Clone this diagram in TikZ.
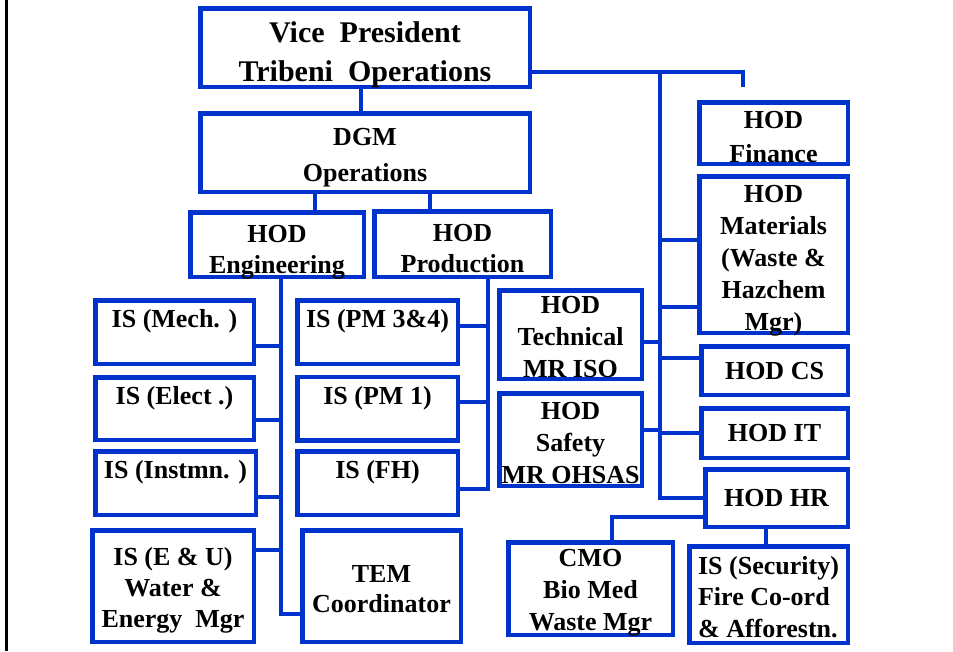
\documentclass[tikz,border=0pt]{standalone}
\usepackage{fontspec}
\setmainfont{Liberation Serif}
\definecolor{orgblue}{RGB}{0,51,204}

\begin{document}
\begin{tikzpicture}[x=1pt,y=-1pt,
    box/.style={draw=orgblue,line width=4.5pt,align=center,inner sep=0pt,text depth=0pt,font=\bfseries\fontsize{26}{32}\selectfont},
    isbox/.style={box,text depth=27pt},
    link/.style={draw=orgblue,line width=4.5pt}]
    \useasboundingbox (0,0) rectangle (953,651);
    \draw[line width=3pt] (6.5,0) -- (6.5,651);
    % top of the chart
    \node[box,minimum width=329.5pt,minimum height=78.5pt,text height=67pt,font=\bfseries\fontsize{30}{39}\selectfont] (vp) at (365,47.5) {Vice\ \ President\\Tribeni\ \ Operations};
    \node[box,minimum width=329.5pt,minimum height=78.5pt,text height=57pt,font=\bfseries\fontsize{26}{36}\selectfont] (dgm) at (365,152.5) {DGM\\Operations};
    \node[box,minimum width=173.5pt,minimum height=64.5pt,text height=57pt,font=\bfseries\fontsize{26}{31}\selectfont] (eng) at (277,244.5) {HOD\\Engineering};
    \node[box,minimum width=176.5pt,minimum height=65.5pt,text height=56pt,font=\bfseries\fontsize{26}{31}\selectfont] (prod) at (462.5,244) {HOD\\Production};
    % engineering side
    \node[isbox,minimum width=158.5pt,minimum height=63.5pt] (mech) at (174.5,332) {IS (Mech. )};
    \node[isbox,minimum width=158.5pt,minimum height=62.5pt] (elect) at (174.5,408.5) {IS (Elect .)};
    \node[isbox,minimum width=160.5pt,minimum height=63.5pt] (inst) at (175.5,483) {IS (Instmn. )};
    \node[box,minimum width=161.5pt,minimum height=111.5pt,text height=82pt,font=\bfseries\fontsize{26}{31}\selectfont] (eu) at (173,586) {IS (E \& U)\\Water \&\\Energy\ \ Mgr};
    \node[box,minimum width=158.5pt,minimum height=111.5pt,text height=52pt,font=\bfseries\fontsize{26}{30}\selectfont] (tem) at (381.5,586) {TEM\\Coordinator};
    % production side
    \node[isbox,minimum width=160.5pt,minimum height=63.5pt] (pm34) at (377.5,332) {IS (PM 3\&4)};
    \node[isbox,minimum width=160.5pt,minimum height=63.5pt] (pm1) at (377.5,408.5) {IS (PM 1)};
    \node[isbox,minimum width=160.5pt,minimum height=63.5pt] (fh) at (377.5,483) {IS (FH)};
    \node[box,minimum width=142.5pt,minimum height=88.5pt,text height=85pt] (tech) at (570.5,334.5) {HOD\\Technical\\MR ISO};
    \node[box,minimum width=142.5pt,minimum height=92.5pt,text height=87pt] (safe) at (570.5,439.5) {HOD\\Safety\\MR OHSAS};
    % right column
    \node[box,minimum width=148.5pt,minimum height=61.5pt,text height=58pt,font=\bfseries\fontsize{26}{34}\selectfont] (fin) at (773.5,133) {HOD\\Finance};
    \node[box,minimum width=148.5pt,minimum height=156.5pt,text height=151pt] (mat) at (773.5,254.5) {HOD\\Materials\\(Waste \&\\Hazchem\\Mgr)};
    \node[box,minimum width=146.5pt,minimum height=48.5pt] (cs) at (774.5,370.5) {HOD CS};
    \node[box,minimum width=146.5pt,minimum height=49.5pt] (it) at (774.5,433) {HOD IT};
    \node[box,minimum width=142.5pt,minimum height=57.5pt] (hr) at (776.5,498) {HOD HR};
    \node[box,minimum width=164.5pt,minimum height=92.5pt,text height=83pt] (cmo) at (590.5,588.5) {CMO\\Bio Med\\Waste Mgr};
    \node[box,align=left,minimum width=158.5pt,minimum height=96.5pt,text height=85pt,font=\bfseries\fontsize{26}{31.5}\selectfont] (sec) at (768.5,594.5) {IS (Security)\\Fire Co-ord\\\& Afforestn.};

    % links
    \draw[link] ([xshift=-4pt]vp.south) -- ([xshift=-4pt]dgm.north);
    \draw[link] ([xshift=-50pt]dgm.south) -- ([xshift=38pt]eng.north);
    \draw[link] ([xshift=65pt]dgm.south) -- ([xshift=-32.5pt]prod.north);
    \draw[link,shorten >=13pt] ([yshift=-24.5pt]vp.east) -| ([xshift=-30.5pt]fin.north);
    \coordinate (hub) at (660,72);
    \draw[link] (hub) |- (hr.west);
    \draw[link] ([yshift=14.5pt]mat.west) -| (hub);
    \draw[link] ([yshift=-52.5pt]mat.west) -| (hub);
    \draw[link] ([yshift=12.5pt]cs.west) -| (hub);
    \draw[link] (it.west) -| (hub);
    \draw[link] ([yshift=-7.5pt]tech.east) -| (hub);
    \draw[link] ([yshift=9.5pt]safe.east) -| (hub);
    \draw[link] ([yshift=-19pt]hr.west) -| ([xshift=21.5pt]cmo.north);
    \draw[link] ([xshift=-10.5pt]hr.south) -- ([xshift=-2.5pt]sec.north);
    \coordinate (engbus) at ([xshift=4pt]eng.south);
    \draw[link] (engbus) |- ([yshift=-28pt]tem.west);
    \draw[link] ([yshift=-14pt]mech.east) -| (engbus);
    \draw[link] ([yshift=-11.5pt]elect.east) -| (engbus);
    \draw[link] ([yshift=-14pt]inst.east) -| (engbus);
    \draw[link] ([yshift=36pt]eu.east) -| (engbus);
    \coordinate (prodbus) at ([xshift=25.5pt]prod.south);
    \draw[link] ([yshift=6pt]pm34.east) -| (prodbus);
    \draw[link] ([yshift=6.5pt]pm1.east) -| (prodbus);
    \draw[link] ([yshift=-6pt]fh.east) -| (prodbus);
\end{tikzpicture}
\end{document}
